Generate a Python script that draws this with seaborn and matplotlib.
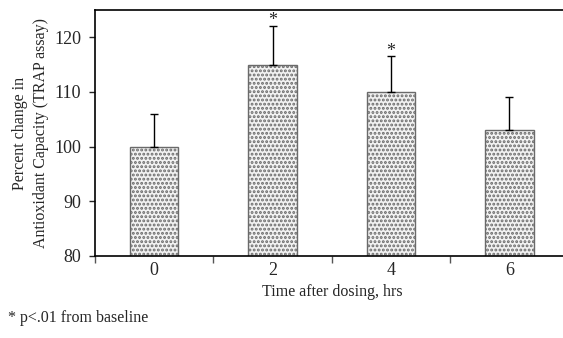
import seaborn as sns
import pandas as pd
import matplotlib.pyplot as plt
import numpy as np

# data
hours = ['0', '2', '4', '6']
pct_change = [100, 115, 110, 103]
err_up = [6, 7, 6.5, 6]
signif = [False, True, True, False]

df = pd.DataFrame({'hours': hours, 'pct': pct_change})

sns.set_style('white', {'xtick.bottom': True, 'ytick.left': True})
plt.rcParams['font.family'] = ['Liberation Serif', 'DejaVu Serif']
plt.rcParams['hatch.color'] = '#1a1a1a'
plt.rcParams['hatch.linewidth'] = 1.4

fig = plt.figure(figsize=(5.63, 3.38), dpi=100)
ax = fig.add_axes([95 / 563, 1 - 256 / 338, (563 - 95) / 563 + 0.01, 246 / 338])

sns.barplot(data=df, x='hours', y='pct', order=hours, color='#f2f2f2',
            width=0.41, edgecolor='#6a6a6a', linewidth=1.0, ax=ax)
for bar in ax.patches:
    bar.set_hatch('....')

x = np.arange(len(hours))
ax.errorbar(x, pct_change, yerr=[np.zeros(len(err_up)), err_up], fmt='none',
            ecolor='black', elinewidth=1.0, capsize=3, capthick=1.0)
for i, s in enumerate(signif):
    if s:
        ax.text(x[i], pct_change[i] + err_up[i] + 1.0, '*', ha='center', va='center',
                fontsize=13)

ax.set_ylim(80, 125)
ax.set_xlim(-0.5, 3.5)
ax.set_yticks([80, 90, 100, 110, 120])
ax.set_xticks([-0.5, 0.5, 1.5, 2.5, 3.5], minor=False)
ax.set_xticklabels([])
ax.set_xticks(x, minor=True)
ax.set_xticklabels(hours, minor=True)
ax.tick_params(axis='x', which='major', bottom=True, direction='out', length=5, width=1, color='#555555')
ax.tick_params(axis='x', which='minor', bottom=True, length=0, labelsize=13, pad=4)
ax.tick_params(axis='y', left=True, direction='out', length=4, width=1, labelsize=13, pad=6)
ax.set_xlabel('Time after dosing, hrs', fontsize=11.5, labelpad=4)
ax.set_ylabel('Percent change in\nAntioxidant Capacity (TRAP assay)', fontsize=11.5, labelpad=4,
              linespacing=1.4)
for side in ['left', 'bottom', 'top']:
    ax.spines[side].set_color('black')
    ax.spines[side].set_linewidth(1.2)
ax.spines['right'].set_visible(False)

fig.text(8 / 563, 1 - 318 / 338, '* p<.01 from baseline', fontsize=11.5, va='center')

plt.savefig('out.png', dpi=100)
